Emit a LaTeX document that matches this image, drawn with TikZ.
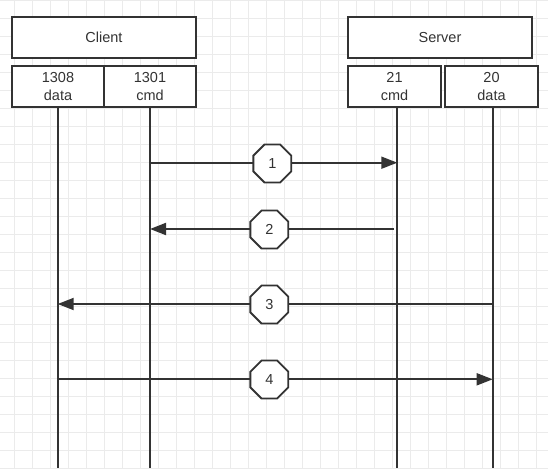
\documentclass[tikz,border=0pt]{standalone}
\usepackage{fontspec}
\setmainfont{Liberation Sans}
\usetikzlibrary{shapes.geometric,arrows.meta}
\definecolor{ink}{HTML}{333333}
\definecolor{gridc}{HTML}{EBEBEB}
\tikzset{
  box/.style={draw=ink,line width=1.8pt,fill=white,rectangle,inner sep=0pt,
    minimum height=41pt,align=center,font=\fontsize{14.5}{17.5}\selectfont,text=ink},
  lifeline/.style={draw=ink,line width=1.8pt},
  msg/.style={draw=ink,line width=1.8pt,-{Triangle[length=16pt,width=12pt]}},
  msgplain/.style={draw=ink,line width=1.8pt},
  octa/.style={draw=ink,line width=1.8pt,fill=white,regular polygon,regular polygon sides=8,
    minimum size=41pt,inner sep=0pt,font=\fontsize{14.5}{17}\selectfont,text=ink}
}
\begin{document}
\begin{tikzpicture}[x=1pt,y=-1pt]
\fill[white] (0,0) rectangle (548,468);
\useasboundingbox (0,0) rectangle (548,468);
% grid
\foreach \x in {14.7,32.7,...,548} \draw[gridc,line width=0.8pt] (\x,0) -- (\x,468);
\foreach \y in {0,18,...,468} \draw[gridc,line width=0.8pt] (0,\y) -- (548,\y);
% boxes
\node[box,minimum width=184pt] (client) at (104,37.5) {Client};
\node[box,minimum width=92pt] (c1308) at (58,86.7) {1308\\data};
\node[box,minimum width=92pt] (c1301) at (150,86.7) {1301\\cmd};
\node[box,minimum width=183.4pt] (server) at (440,37.5) {Server};
\node[box,minimum width=92.4pt] (s21) at (394.5,86.7) {21\\cmd};
\node[box,minimum width=92.4pt] (s20) at (491.5,86.7) {20\\data};
% lifeline ends
\coordinate (e1308) at (57.7,468);
\coordinate (e1301) at (150,468);
\coordinate (e21) at (397.3,468);
\coordinate (e20) at (492.7,468);
\draw[lifeline] (e1308 |- c1308.south) -- (e1308);
\draw[lifeline] (e1301 |- c1301.south) -- (e1301);
\draw[lifeline] (e21 |- s21.south) -- (e21);
\draw[lifeline] (e20 |- s20.south) -- (e20);
% message points
\coordinate (m1a) at (150,162.7);
\coordinate (m1b) at (397.3,162.7);
\coordinate (m2a) at (394,229);
\coordinate (m2b) at (150,229);
\coordinate (m3a) at (492.7,304);
\coordinate (m3b) at (57.7,304);
\coordinate (m4a) at (57.7,379.3);
\coordinate (m4b) at (492.7,379.3);
\draw[msg] (m1a) -- (m1b);
\draw[msg] (m2a) -- (m2b);
\draw[msg] (m3a) -- (m3b);
\draw[msg] (m4a) -- (m4b);
\node[octa] (n1) at (272.3,163.5) {1};
\node[octa] (n2) at (269.3,229.5) {2};
\node[octa] (n3) at (269.3,304.5) {3};
\node[octa] (n4) at (269.3,379.5) {4};
\end{tikzpicture}
\end{document}
